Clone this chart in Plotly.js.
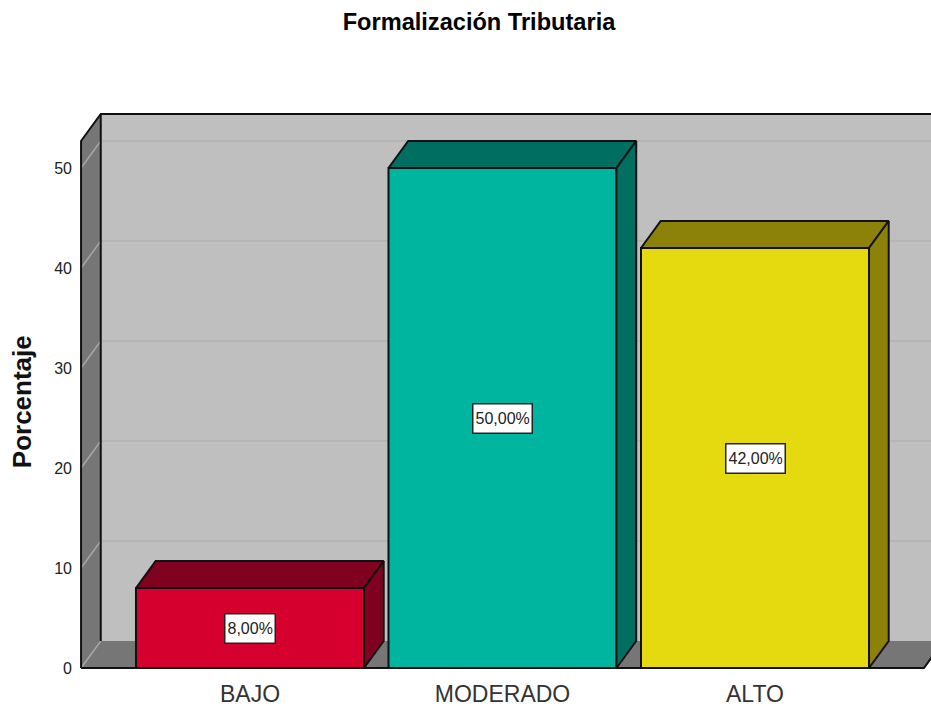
<!DOCTYPE html>
<html>
<head>
<meta charset="utf-8">
<script src="https://cdn.plot.ly/plotly-3.0.1.min.js"></script>
<style>
  html, body { margin: 0; padding: 0; background: #fff; }
</style>
</head>
<body>
<div id="plot" style="width:931px;height:706px;"></div>
<script>
// values
let categories = ['BAJO', 'MODERADO', 'ALTO'];
let percentages = [8, 50, 42];
let valueLabels = ['8,00%', '50,00%', '42,00%'];
let yTicks = [0, 10, 20, 30, 40, 50];
let gridValues = [10, 20, 30, 40, 50];

let frontColors = ['#d6002e', '#00b5a0', '#e5d90f'];
let darkColors = ['#80001f', '#006e60', '#8c820a'];

// 3d look: depth of the box in axis units
let depthX = 0.078;
let depthY = 2.7;
let barWidth = 0.903;
let wallLeft = -0.669;
let floorRight = 2.669;
let wallTop = 52.7;
let xPositions = [0, 1, 2];

let plainFont = 'Liberation Sans, Arial, sans-serif';

let traces = [];

traces.push({
  type: 'bar',
  x: xPositions,
  y: percentages,
  width: barWidth,
  marker: { color: frontColors, line: { color: '#111', width: 2 } },
  hoverinfo: 'skip'
});

function face(xs, ys, color) {
  return {
    type: 'scatter',
    mode: 'lines',
    x: xs,
    y: ys,
    fill: 'toself',
    fillcolor: color,
    line: { color: '#111', width: 2 },
    hoverinfo: 'skip'
  };
}

percentages.forEach(function(v, i) {
  let left = xPositions[i] - barWidth / 2;
  let right = xPositions[i] + barWidth / 2;
  // top face
  traces.push(face(
    [left, left + depthX, right + depthX, right, left],
    [v, v + depthY, v + depthY, v, v],
    darkColors[i]
  ));
  // side face
  traces.push(face(
    [right, right + depthX, right + depthX, right, right],
    [v, v + depthY, depthY, 0, v],
    darkColors[i]
  ));
});

function poly(points, fill, line) {
  let path = points.map(function(p, i) {
    return (i === 0 ? 'M ' : 'L ') + p[0] + ' ' + p[1];
  }).join(' ');
  return {
    type: 'path',
    path: path + (fill ? ' Z' : ''),
    xref: 'x',
    yref: 'y',
    layer: 'below',
    fillcolor: fill || 'rgba(0,0,0,0)',
    line: line || { width: 0 }
  };
}

let backX = wallLeft + depthX;
let black = { color: '#111', width: 2 };
let shapes = [];

// back wall, left wall, floor
shapes.push(poly([[backX, depthY], [backX, wallTop + depthY], [3, wallTop + depthY], [3, depthY]], '#bfbfbf'));
shapes.push(poly([[wallLeft, 0], [wallLeft, wallTop], [backX, wallTop + depthY], [backX, depthY]], '#767676'));
shapes.push(poly([[wallLeft, 0], [backX, depthY], [floorRight + depthX, depthY], [floorRight, 0]], '#767676'));

// grid lines, back wall and the slanted part on the left wall
gridValues.forEach(function(v) {
  shapes.push(poly([[backX, v + depthY], [3, v + depthY]], null, { color: '#b2b2b2', width: 1.5 }));
  shapes.push(poly([[wallLeft, v], [backX, v + depthY]], null, { color: '#a6a6a6', width: 1.5 }));
});
shapes.push(poly([[wallLeft, 0], [backX, depthY]], null, { color: '#a6a6a6', width: 1.5 }));

// box edges
shapes.push(poly([[wallLeft, 0], [wallLeft, wallTop], [backX, wallTop + depthY], [3, wallTop + depthY]], null, black));
shapes.push(poly([[backX, depthY], [backX, wallTop + depthY]], null, black));
shapes.push(poly([[wallLeft, 0], [floorRight, 0], [floorRight + depthX, depthY]], null, black));

let annotations = percentages.map(function(v, i) {
  return {
    x: xPositions[i],
    y: v / 2,
    text: valueLabels[i],
    showarrow: false,
    height: 24,
    bgcolor: '#fff',
    bordercolor: '#222',
    borderwidth: 1.5,
    borderpad: 2,
    font: { family: plainFont, size: 16, color: '#222' }
  };
});

// axis title sits lower than the plot centre in the original
annotations.push({
  text: '<b>Porcentaje</b>',
  xref: 'paper',
  yref: 'paper',
  x: -0.0617,
  y: 0.4805,
  xanchor: 'center',
  yanchor: 'middle',
  textangle: -90,
  showarrow: false,
  font: { family: plainFont, size: 26, color: '#111' }
});

let layout = {
  width: 931,
  height: 706,
  showlegend: false,
  paper_bgcolor: '#fff',
  plot_bgcolor: '#fff',
  margin: { l: 75, r: 0, t: 109, b: 33 },
  title: {
    text: '<b>Formalización Tributaria</b>',
    font: { family: plainFont, size: 23.6, color: '#000' },
    x: 0.5145,
    xref: 'container',
    xanchor: 'center',
    y: 0.969,
    yref: 'container',
    yanchor: 'middle'
  },
  xaxis: {
    range: [-0.693, 2.697],
    tickmode: 'array',
    tickvals: xPositions,
    ticktext: categories,
    showgrid: false,
    zeroline: false,
    showline: false,
    ticks: '',
    ticklabelstandoff: 5,
    tickfont: { family: plainFont, size: 23, color: '#333' }
  },
  yaxis: {
    range: [-0.5, 55.9],
    tickmode: 'array',
    tickvals: yTicks,
    showgrid: false,
    zeroline: false,
    showline: false,
    ticks: '',
    ticklabelstandoff: 2,
    tickfont: { family: plainFont, size: 16, color: '#222' }
  },
  shapes: shapes,
  annotations: annotations
};

Plotly.newPlot('plot', traces, layout, { displayModeBar: false });
</script>
</body>
</html>
